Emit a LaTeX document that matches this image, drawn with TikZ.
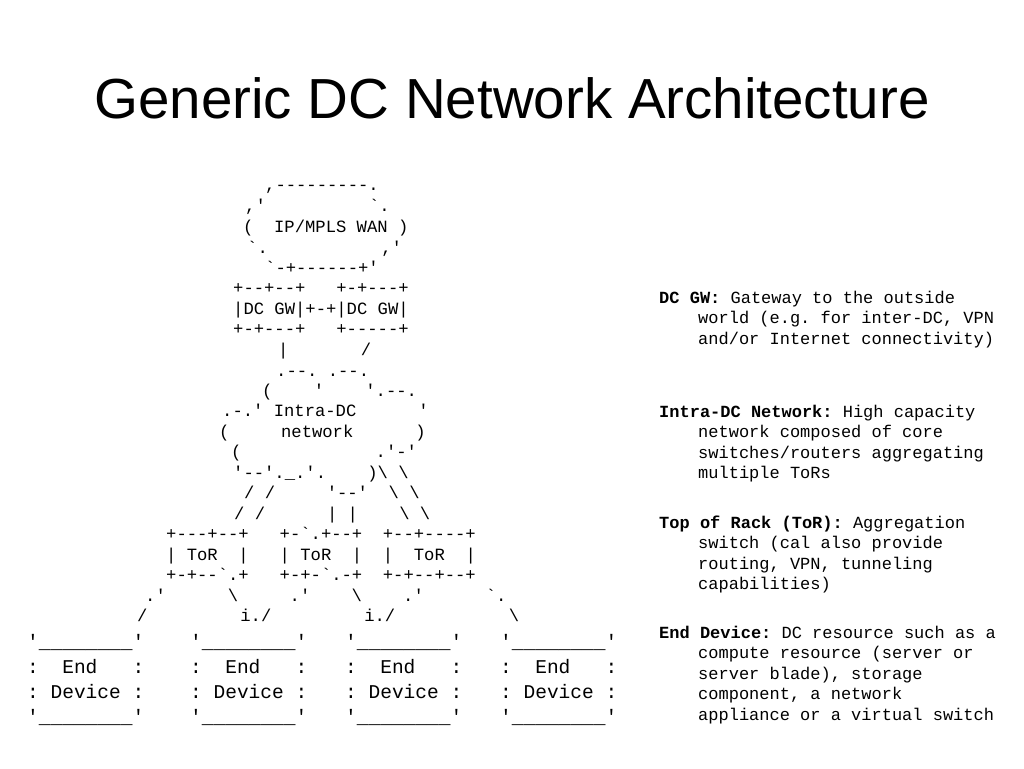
\documentclass[tikz,border=0pt]{standalone}
\usepackage{fontspec}
\setmainfont{Liberation Sans}
\setmonofont{Liberation Mono}
\begin{document}
\begin{tikzpicture}[x=1pt,y=-1pt,
  asc/.style={anchor=base west,yshift=-6pt,inner sep=0pt,font=\fontsize{17.2}{20}\ttfamily},
  big/.style={anchor=north west,inner sep=0pt,align=left,font=\fontsize{19.5}{25}\ttfamily},
  note/.style={anchor=base west,yshift=-6pt,inner sep=0pt,font=\fontsize{17}{20}\ttfamily}]
\useasboundingbox (0,0) rectangle (1024,768);
\def\q{\char39}\def\b{\char96}\def\s{\textbackslash}
\node[anchor=center,inner sep=0pt,font=\fontsize{56.5}{64}\selectfont] (title) at (512,98) {Generic DC Network Architecture};
\node[asc] (l1) at (265,184) {,---------.};
\node[asc] (l2) at (245,205) {,\q~~~~~~~~~~\b.};
\node[asc] (l3) at (243,226) {(~~IP/MPLS~WAN~)};
\node[asc] (l4) at (247,247) {\b.~~~~~~~~~~~,\q};
\node[asc] (l5) at (265,267) {\b-+------+\q};
\node[asc] (l6) at (233,287) {+--+--+~~~+-+---+};
\node[asc] (l7) at (233,308) {|DC~GW|+-+|DC~GW|};
\node[asc] (l8) at (233,328) {+-+---+~~~+-----+};
\node[asc] (l9) at (278,349) {|~~~~~~~/};
\node[asc] (l10) at (276,370) {.--.~.--.};
\node[asc] (l11) at (262,390) {(~~~~\q~~~~\q.--.};
\node[asc] (l12) at (222,410) {.-.\q~Intra-DC~~~~~~\q};
\node[asc] (l13) at (219,431) {(~~~~~network~~~~~~)};
\node[asc] (l14) at (231,451) {(~~~~~~~~~~~~~.\q-\q};
\node[asc] (l15) at (233,472) {\q--\q.\_.\q.~~~~)\s~\s};
\node[asc] (l16) at (244,492) {/~/~~~~~\q--\q~~\s~\s};
\node[asc] (l17) at (234,513) {/~/~~~~~~|~|~~~~\s~\s};
\node[asc] (l18) at (166,533) {+---+--+~~~+-\b.+--+~~+--+----+};
\node[asc] (l19) at (166,554) {|~ToR~~|~~~|~ToR~~|~~|~~ToR~~|};
\node[asc] (l20) at (166,574) {+-+--\b.+~~~+-+-\b.-+~~+-+--+--+};
\node[asc] (l21) at (145,595) {.\q~~~~~~\s~~~~~.\q~~~~\s~~~~.\q~~~~~~\b.};
\node[asc] (l22) at (137,615) {/~~~~~~~~~i./~~~~~~~~~i./~~~~~~~~~~~\s};
\foreach \n/\x in {e1/27,e2/190,e3/345,e4/500}
  \node[big] (\n) at (\x,634) {\q\_\_\_\_\_\_\_\_\q\\:~~End~~~:\\:~Device~:\\\q\_\_\_\_\_\_\_\_\q};
\node[note] (n1) at (659,297) {\textbf{DC GW:} Gateway to the outside};
\node[note] (n2) at (698,317) {world (e.g. for inter-DC, VPN};
\node[note] (n3) at (698,338) {and/or Internet connectivity)};
\node[note] (n4) at (659,411) {\textbf{Intra-DC Network:} High capacity};
\node[note] (n5) at (698,431) {network composed of core};
\node[note] (n6) at (698,452) {switches/routers aggregating};
\node[note] (n7) at (698,472) {multiple ToRs};
\node[note] (n8) at (659,522) {\textbf{Top of Rack (ToR):} Aggregation};
\node[note] (n9) at (698,542) {switch (cal also provide};
\node[note] (n10) at (698,563) {routing, VPN, tunneling};
\node[note] (n11) at (698,583) {capabilities)};
\node[note] (n12) at (659,632) {\textbf{End Device:} DC resource such as a};
\node[note] (n13) at (698,652) {compute resource (server or};
\node[note] (n14) at (698,673) {server blade), storage};
\node[note] (n15) at (698,693) {component, a network};
\node[note] (n16) at (698,714) {appliance or a virtual switch};
\end{tikzpicture}
\end{document}
